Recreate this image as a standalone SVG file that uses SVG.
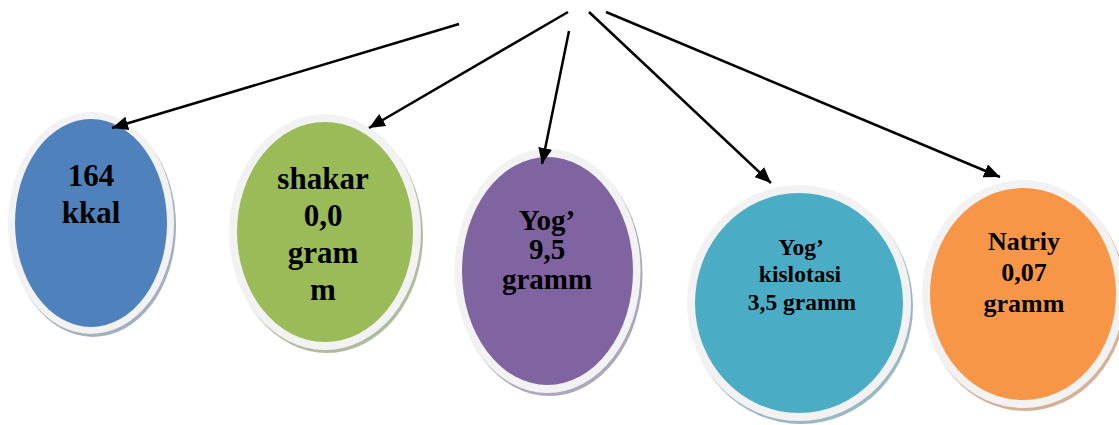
<svg xmlns="http://www.w3.org/2000/svg" width="1119" height="425" viewBox="0 0 1119 425">
<style>
.ring{fill:#F2F2F2}
.lbl{fill:#000;text-anchor:middle;font-family:"Liberation Serif","Times New Roman",serif;font-weight:bold}
.arrow{stroke:#000;stroke-width:2.5;fill:none;marker-end:url(#ah)}
</style>
<defs>
<marker id="ah" markerUnits="userSpaceOnUse" markerWidth="18" markerHeight="14" refX="16" refY="7" orient="auto">
<path d="M0,0 L16,7 L0,14 Z" fill="#000"/>
</marker>
</defs>
<rect width="1119" height="425" fill="#fff"/>
<g id="node-kkal">
<ellipse cx="93" cy="226" rx="83" ry="111" fill="#A3B0C2"/>
<ellipse cx="91" cy="223" rx="83" ry="111" class="ring"/>
<ellipse cx="91" cy="223" rx="76" ry="104" fill="#4F81BD"/>
<text class="lbl" font-size="31"><tspan x="91" y="186">164</tspan><tspan x="91" y="223">kkal</tspan></text>
</g>
<g id="node-shakar">
<ellipse cx="327" cy="235" rx="96" ry="118" fill="#B1BBA0"/>
<ellipse cx="325" cy="232" rx="96" ry="118" class="ring"/>
<ellipse cx="325" cy="232" rx="88" ry="110" fill="#9BBB59"/>
<text class="lbl" font-size="31"><tspan x="323" y="189">shakar</tspan><tspan x="323" y="226">0,0</tspan><tspan x="323" y="263">gram</tspan><tspan x="323" y="300">m</tspan></text>
</g>
<g id="node-yog">
<ellipse cx="549.5" cy="274" rx="93" ry="122" fill="#ADA6BC"/>
<ellipse cx="547.5" cy="271" rx="93" ry="122" class="ring"/>
<ellipse cx="547.5" cy="271" rx="85.5" ry="114" fill="#8064A2"/>
<text class="lbl" font-size="29"><tspan x="547" y="230">Yog’</tspan><tspan x="547" y="259">9,5</tspan><tspan x="547" y="289">gramm</tspan></text>
</g>
<g id="node-kislota">
<ellipse cx="801" cy="306" rx="112" ry="118" fill="#9AB8C2"/>
<ellipse cx="799" cy="303" rx="112" ry="118" class="ring"/>
<ellipse cx="799" cy="303" rx="104" ry="110" fill="#4BACC6"/>
<text class="lbl" font-size="23.5"><tspan x="801" y="255">Yog’</tspan><tspan x="800" y="282">kislotasi</tspan><tspan x="802" y="310">3,5 gramm</tspan></text>
</g>
<g id="node-natriy">
<ellipse cx="1025" cy="297" rx="101" ry="114" fill="#D6B097"/>
<ellipse cx="1023" cy="294" rx="101" ry="114" class="ring"/>
<ellipse cx="1023" cy="294" rx="93" ry="106" fill="#F79646"/>
<text class="lbl" font-size="26"><tspan x="1024" y="250">Natriy</tspan><tspan x="1024" y="281">0,07</tspan><tspan x="1024" y="312">gramm</tspan></text>
</g>
<g id="connectors">
<line class="arrow" x1="459" y1="24" x2="112" y2="128"/>
<line class="arrow" x1="568" y1="12" x2="369" y2="128"/>
<line class="arrow" x1="569" y1="31" x2="542" y2="164"/>
<line class="arrow" x1="589" y1="12" x2="771" y2="183"/>
<line class="arrow" x1="606" y1="12" x2="1000" y2="177"/>
</g>
</svg>
